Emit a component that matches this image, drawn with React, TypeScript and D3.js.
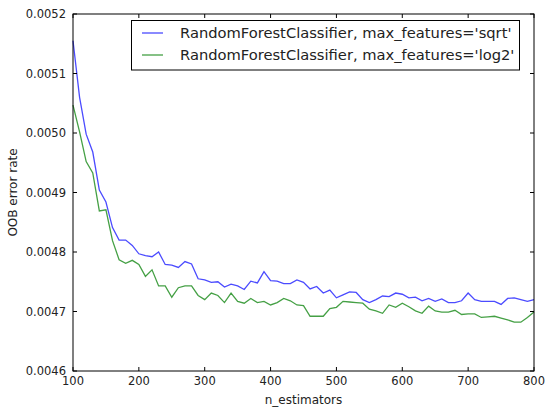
import React from 'react'
import * as d3 from 'd3'

const width = 550,
      height = 407,
      left = 73,
      right = 534,
      top = 14,
      bottom = 371

// n_estimators, 100 .. 800 step 10
const nEstimators = [
  100, 110, 120, 130, 140, 150, 160, 170, 180, 190,
  200, 210, 220, 230, 240, 250, 260, 270, 280, 290,
  300, 310, 320, 330, 340, 350, 360, 370, 380, 390,
  400, 410, 420, 430, 440, 450, 460, 470, 480, 490,
  500, 510, 520, 530, 540, 550, 560, 570, 580, 590,
  600, 610, 620, 630, 640, 650, 660, 670, 680, 690,
  700, 710, 720, 730, 740, 750, 760, 770, 780, 790,
  800
]

// max_features='sqrt'
const sqrtErr = [
  0.005155, 0.00506, 0.004998, 0.004968, 0.004904, 0.004884, 0.004841, 0.00482, 0.00482, 0.004811,
  0.004797, 0.004794, 0.004792, 0.0048, 0.004779, 0.004778, 0.004774, 0.004784, 0.00478, 0.004755,
  0.004753, 0.004749, 0.00475, 0.004741, 0.004746, 0.004743, 0.004737, 0.004751, 0.004748, 0.004767,
  0.004752, 0.004751, 0.004747, 0.004747, 0.004753, 0.004749, 0.004738, 0.004742, 0.004731, 0.004736,
  0.004723, 0.004728, 0.004733, 0.004732, 0.00472, 0.004715, 0.00472, 0.004726, 0.004725, 0.004731,
  0.004729, 0.004723, 0.004724, 0.004718, 0.004722, 0.004717, 0.004721, 0.004715, 0.004715, 0.004718,
  0.004731, 0.00472, 0.004717, 0.004717, 0.004717, 0.004712, 0.004722, 0.004723, 0.00472, 0.004717,
  0.00472
]

// max_features='log2'
const log2Err = [
  0.005047, 0.005002, 0.004952, 0.004933, 0.004869, 0.004871, 0.004819, 0.004787, 0.004781, 0.004786,
  0.004779, 0.004759, 0.00477, 0.004743, 0.004743, 0.004724, 0.00474, 0.004743, 0.004743, 0.004727,
  0.00472, 0.004731, 0.004727, 0.004715, 0.004731, 0.004717, 0.004714, 0.004722, 0.004715, 0.004717,
  0.004711, 0.004715, 0.004722, 0.004718, 0.004711, 0.00471, 0.004692, 0.004692, 0.004692, 0.004705,
  0.004707, 0.004717, 0.004716, 0.004715, 0.004714, 0.004704, 0.004701, 0.004697, 0.004711, 0.004707,
  0.004714, 0.004708, 0.004701, 0.004697, 0.004709, 0.004701, 0.004699, 0.004699, 0.004702, 0.004695,
  0.004696, 0.004696, 0.00469, 0.004691, 0.004692, 0.004689, 0.004686, 0.004682, 0.004682, 0.00469,
  0.004699
]

const xTickValues = [100, 200, 300, 400, 500, 600, 700, 800]
const yTickValues = [0.0046, 0.0047, 0.0048, 0.0049, 0.005, 0.0051, 0.0052]

const seriesNames = [
  "RandomForestClassifier, max_features='sqrt'",
  "RandomForestClassifier, max_features='log2'"
]
const seriesColors = ['#4b4bff', '#45a045']

const font = '"DejaVu Sans", sans-serif'
const tickLen = 4

export default function App () {
  const xScale = d3.scaleLinear().domain([100, 800]).range([left, right])
  const yScale = d3.scaleLinear().domain([0.0046, 0.0052]).range([bottom, top])

  const line = d3.line<number>()
    .x((d, i) => xScale(nEstimators[i]))
    .y(d => yScale(d))

  const series = [sqrtErr, log2Err]

  return (
    <svg width={width} height={height} style={{ position: 'absolute', left: 0, top: 0, background: '#fff' }}
         fontFamily={font}>
      {/* lines */}
      {series.map((s, k) => (
        <path key={k} d={line(s) || ''} fill='none' stroke={seriesColors[k]} strokeWidth={1.3} />
      ))}

      {/* x ticks, top and bottom, pointing inward */}
      {xTickValues.map(d => (
        <g key={d} transform={`translate(${xScale(d)}, 0)`}>
          <line x1={0} x2={0} y1={bottom} y2={bottom - tickLen} stroke='#000' />
          <line x1={0} x2={0} y1={top} y2={top + tickLen} stroke='#000' />
          <text y={bottom + 14} textAnchor='middle' fontSize={11.5} fill='#222'>{d}</text>
        </g>
      ))}

      {/* y ticks, left and right */}
      {yTickValues.map(d => (
        <g key={d} transform={`translate(0, ${yScale(d)})`}>
          <line x1={left} x2={left + tickLen} y1={0} y2={0} stroke='#000' />
          <line x1={right} x2={right - tickLen} y1={0} y2={0} stroke='#000' />
          <text x={left - 7} dy='0.35em' textAnchor='end' fontSize={11.5} fill='#222'>{d3.format('.4f')(d)}</text>
        </g>
      ))}

      {/* frame */}
      <rect x={left} y={top} width={right - left} height={bottom - top} fill='none' stroke='#000' strokeWidth={1} />

      {/* axis labels */}
      <text x={(left + right) / 2} y={404} textAnchor='middle' fontSize={12} fill='#222'>n_estimators</text>
      <text transform={`translate(16.5, ${(top + bottom) / 2}) rotate(-90)`} textAnchor='middle' fontSize={12} fill='#222'>OOB error rate</text>

      {/* legend */}
      <g>
        <rect x={131.5} y={20.5} width={388} height={49.5} fill='#fff' stroke='#000' strokeWidth={1} />
        {seriesNames.map((name, k) => (
          <g key={k} transform={`translate(0, ${33 + k * 22})`}>
            <line x1={142} x2={163} y1={0} y2={0} stroke={seriesColors[k]} strokeWidth={1.3} />
            <text x={180} dy='0.35em' fontSize={14.7} fill='#222'>{name}</text>
          </g>
        ))}
      </g>
    </svg>
  )
}
